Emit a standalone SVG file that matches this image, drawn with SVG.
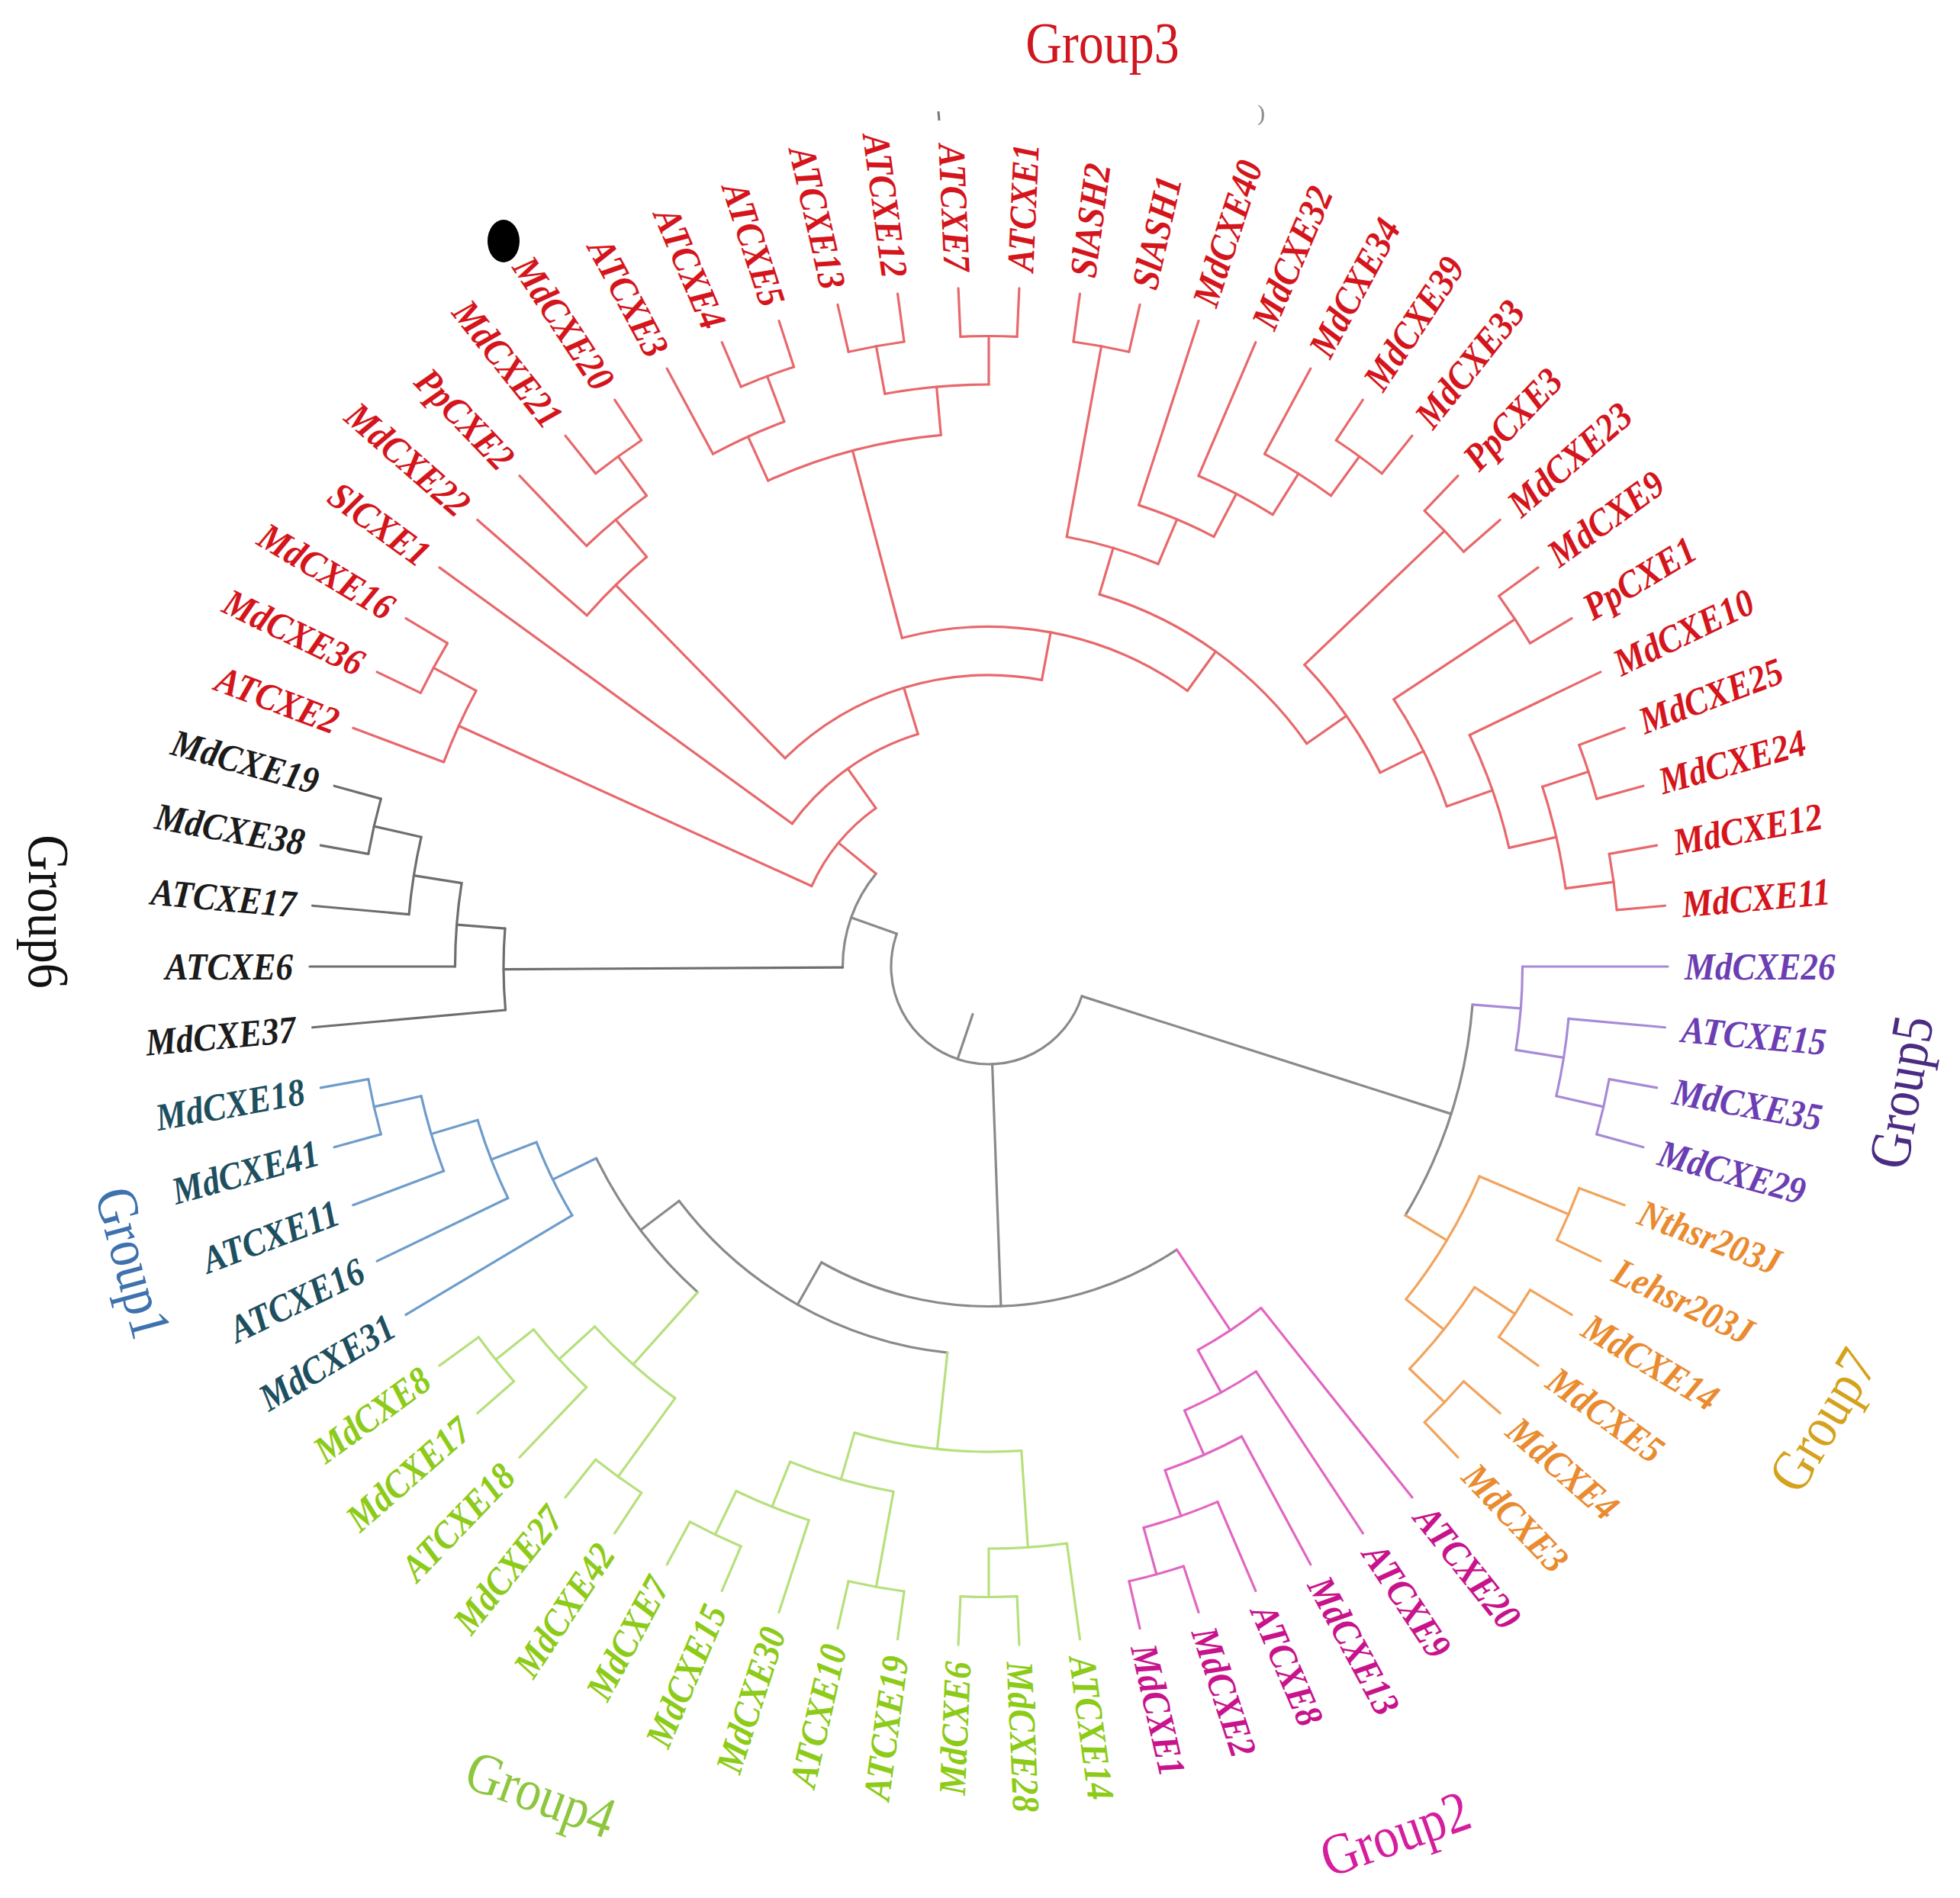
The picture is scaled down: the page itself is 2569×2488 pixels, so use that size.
<svg xmlns="http://www.w3.org/2000/svg" width="2569" height="2488" viewBox="0 0 2569 2488">
<style>
.b line,.b circle{fill:none;stroke-width:3.2;stroke-linecap:round}
.r{stroke:#E8686B}.g{stroke:#8a8a8a}.k{stroke:#6e6e6e}.p{stroke:#A78AD6}.o{stroke:#F2A35C}.m{stroke:#E266C1}.gr{stroke:#B6E07C}.bl{stroke:#6E9CCB}
.d line{stroke:#d6d6d6;stroke-width:2;stroke-dasharray:2 4;fill:none}
.t{font-family:"Liberation Serif","Times New Roman",serif;font-weight:bold;font-style:italic;font-size:45px;dominant-baseline:central}
.L{text-anchor:end}
.cr{fill:#D5151C}.cp{fill:#6C3EB3}.co{fill:#EA8B30}.cm{fill:#C8138D}.cg{fill:#8DCB19}.cb{fill:#1E4F5F}.ck{fill:#1b1b1b}
.G{font-family:"Liberation Serif","Times New Roman",serif;font-size:66px;text-anchor:middle}
</style>
<rect width="2569" height="2488" fill="#fff"/>
<g id="connectors" transform="translate(1296 1267)">
<g class="b">
<!-- h1 arcs r=826.5 -->
<circle r="826.5" class="p" stroke-dasharray="74.19 9999" transform="rotate(10.286)"/>
<circle r="826.5" class="o" stroke-dasharray="74.19 9999" transform="rotate(20.571)"/>
<circle r="826.5" class="o" stroke-dasharray="74.19 9999" transform="rotate(30.857)"/>
<circle r="826.5" class="o" stroke-dasharray="74.19 9999" transform="rotate(41.143)"/>
<circle r="826.5" class="m" stroke-dasharray="74.19 9999" transform="rotate(72)"/>
<circle r="826.5" class="gr" stroke-dasharray="74.19 9999" transform="rotate(87.429)"/>
<circle r="826.5" class="gr" stroke-dasharray="74.19 9999" transform="rotate(97.714)"/>
<circle r="826.5" class="gr" stroke-dasharray="74.19 9999" transform="rotate(113.143)"/>
<circle r="826.5" class="gr" stroke-dasharray="74.19 9999" transform="rotate(123.429)"/>
<circle r="826.5" class="gr" stroke-dasharray="74.19 9999" transform="rotate(138.857)"/>
<circle r="826.5" class="bl" stroke-dasharray="74.19 9999" transform="rotate(164.571)"/>
<circle r="826.5" class="k" stroke-dasharray="74.19 9999" transform="rotate(190.286)"/>
<circle r="826.5" class="r" stroke-dasharray="74.19 9999" transform="rotate(205.714)"/>
<circle r="826.5" class="r" stroke-dasharray="74.19 9999" transform="rotate(231.429)"/>
<circle r="826.5" class="r" stroke-dasharray="74.19 9999" transform="rotate(246.857)"/>
<circle r="826.5" class="r" stroke-dasharray="74.19 9999" transform="rotate(257.143)"/>
<circle r="826.5" class="r" stroke-dasharray="74.19 9999" transform="rotate(267.429)"/>
<circle r="826.5" class="r" stroke-dasharray="74.19 9999" transform="rotate(277.714)"/>
<circle r="826.5" class="r" stroke-dasharray="74.19 9999" transform="rotate(303.429)"/>
<circle r="826.5" class="r" stroke-dasharray="74.19 9999" transform="rotate(313.714)"/>
<circle r="826.5" class="r" stroke-dasharray="74.19 9999" transform="rotate(324)"/>
<circle r="826.5" class="r" stroke-dasharray="74.19 9999" transform="rotate(339.429)"/>
<circle r="826.5" class="r" stroke-dasharray="74.19 9999" transform="rotate(349.714)"/>
<!-- h2 arcs r=763 -->
<circle r="763" class="p" stroke-dasharray="102.73 9999" transform="rotate(5.143)"/>
<circle r="763" class="o" stroke-dasharray="136.97 9999" transform="rotate(33.429)"/>
<circle r="763" class="m" stroke-dasharray="102.73 9999" transform="rotate(66.857)"/>
<circle r="763" class="gr" stroke-dasharray="102.73 9999" transform="rotate(82.286)"/>
<circle r="763" class="gr" stroke-dasharray="102.73 9999" transform="rotate(108)"/>
<circle r="763" class="gr" stroke-dasharray="102.73 9999" transform="rotate(133.714)"/>
<circle r="763" class="bl" stroke-dasharray="102.73 9999" transform="rotate(159.429)"/>
<circle r="763" class="k" stroke-dasharray="102.73 9999" transform="rotate(185.143)"/>
<circle r="763" class="r" stroke-dasharray="102.73 9999" transform="rotate(200.571)"/>
<circle r="763" class="r" stroke-dasharray="102.73 9999" transform="rotate(226.286)"/>
<circle r="763" class="r" stroke-dasharray="102.73 9999" transform="rotate(241.714)"/>
<circle r="763" class="r" stroke-dasharray="136.97 9999" transform="rotate(259.714)"/>
<circle r="763" class="r" stroke-dasharray="102.73 9999" transform="rotate(298.286)"/>
<circle r="763" class="r" stroke-dasharray="136.97 9999" transform="rotate(342)"/>
<!-- h3 arcs r=699.5 -->
<circle r="699.5" class="p" stroke-dasharray="109.88 9999" transform="rotate(0)"/>
<circle r="699.5" class="o" stroke-dasharray="188.37 9999" transform="rotate(23.143)"/>
<circle r="699.5" class="m" stroke-dasharray="109.88 9999" transform="rotate(61.714)"/>
<circle r="699.5" class="gr" stroke-dasharray="141.27 9999" transform="rotate(100.286)"/>
<circle r="699.5" class="gr" stroke-dasharray="141.27 9999" transform="rotate(126)"/>
<circle r="699.5" class="bl" stroke-dasharray="109.88 9999" transform="rotate(154.286)"/>
<circle r="699.5" class="k" stroke-dasharray="109.88 9999" transform="rotate(180)"/>
<circle r="699.5" class="r" stroke-dasharray="109.88 9999" transform="rotate(221.143)"/>
<circle r="699.5" class="r" stroke-dasharray="235.46 9999" transform="rotate(245.571)"/>
<circle r="699.5" class="r" stroke-dasharray="109.88 9999" transform="rotate(293.143)"/>
<circle r="699.5" class="r" stroke-dasharray="156.97 9999" transform="rotate(334.286)"/>
<!-- h4 arcs r=636 -->
<circle r="636" class="g" stroke-dasharray="292.56 9999" transform="rotate(4.5)"/>
<circle r="636" class="m" stroke-dasharray="107.04 9999" transform="rotate(56.571)"/>
<circle r="636" class="gr" stroke-dasharray="221.2 9999" transform="rotate(86.143)"/>
<circle r="636" class="bl" stroke-dasharray="107.04 9999" transform="rotate(149.143)"/>
<circle r="636" class="k" stroke-dasharray="107.04 9999" transform="rotate(174.857)"/>
<circle r="636" class="r" stroke-dasharray="107.04 9999" transform="rotate(288)"/>
<circle r="636" class="r" stroke-dasharray="156.99 9999" transform="rotate(326.571)"/>
<!-- h5 arcs r=572.5 -->
<circle r="572.5" class="m" stroke-dasharray="99.56 9999" transform="rotate(51.429)"/>
<circle r="572.5" class="g" stroke-dasharray="221.6 9999" transform="rotate(131.786)"/>
<circle r="572.5" class="r" stroke-dasharray="125.25 9999" transform="rotate(280.286)"/>
<circle r="572.5" class="r" stroke-dasharray="173.43 9999" transform="rotate(316.286)"/>
<!-- h6..h12 -->
<circle r="509" class="g" stroke-dasharray="415.49 9999" transform="rotate(96.107)"/>
<circle r="509" class="r" stroke-dasharray="341.23 9999" transform="rotate(286.554)"/>
<circle r="445.5" class="g" stroke-dasharray="490.45 9999" transform="rotate(56.411)"/>
<circle r="445.5" class="r" stroke-dasharray="392.99 9999" transform="rotate(255.214)"/>
<circle r="382" class="r" stroke-dasharray="365.64 9999" transform="rotate(225.643)"/>
<circle r="318.5" class="r" stroke-dasharray="206.04 9999" transform="rotate(216)"/>
<circle r="255" class="r" stroke-dasharray="133.99 9999" transform="rotate(204.429)"/>
<circle r="191.5" class="g" stroke-dasharray="133.02 9999" transform="rotate(179.679)"/>
<circle r="128" class="g" stroke-dasharray="406.4 9999" transform="rotate(17.679)"/>
<!-- internal stems -->
<line class="p" x1="763" x2="826.5" transform="rotate(12.857)"/>
<line class="p" x1="699.5" x2="763" transform="rotate(9)"/>
<line class="p" x1="636" x2="699.5" transform="rotate(4.5)"/>
<line class="o" x1="699.5" x2="826.5" transform="rotate(23.143)"/>
<line class="o" x1="763" x2="826.5" transform="rotate(33.429)"/>
<line class="o" x1="763" x2="826.5" transform="rotate(43.714)"/>
<line class="o" x1="699.5" x2="763" transform="rotate(38.571)"/>
<line class="o" x1="636" x2="699.5" transform="rotate(30.857)"/>
<line class="g" x1="128" x2="636" transform="rotate(17.679)"/>
<line class="m" x1="763" x2="826.5" transform="rotate(74.571)"/>
<line class="m" x1="699.5" x2="763" transform="rotate(70.714)"/>
<line class="m" x1="636" x2="699.5" transform="rotate(66.214)"/>
<line class="m" x1="572.5" x2="636" transform="rotate(61.393)"/>
<line class="m" x1="445.5" x2="572.5" transform="rotate(56.411)"/>
<line class="gr" x1="763" x2="826.5" transform="rotate(90)"/>
<line class="gr" x1="636" x2="763" transform="rotate(86.143)"/>
<line class="gr" x1="699.5" x2="826.5" transform="rotate(100.286)"/>
<line class="gr" x1="763" x2="826.5" transform="rotate(115.714)"/>
<line class="gr" x1="699.5" x2="763" transform="rotate(111.857)"/>
<line class="gr" x1="636" x2="699.5" transform="rotate(106.071)"/>
<line class="gr" x1="509" x2="636" transform="rotate(96.107)"/>
<line class="gr" x1="763" x2="826.5" transform="rotate(141.429)"/>
<line class="gr" x1="699.5" x2="763" transform="rotate(137.571)"/>
<line class="gr" x1="699.5" x2="826.5" transform="rotate(126)"/>
<line class="gr" x1="572.5" x2="699.5" transform="rotate(131.786)"/>
<line class="bl" x1="763" x2="826.5" transform="rotate(167.143)"/>
<line class="bl" x1="699.5" x2="763" transform="rotate(163.286)"/>
<line class="bl" x1="636" x2="699.5" transform="rotate(158.786)"/>
<line class="bl" x1="572.5" x2="636" transform="rotate(153.964)"/>
<line class="g" x1="509" x2="572.5" transform="rotate(142.875)"/>
<line class="g" x1="445.5" x2="509" transform="rotate(119.491)"/>
<line class="g" x1="128" x2="445.5" transform="rotate(87.951)"/>
<line class="k" x1="763" x2="826.5" transform="rotate(192.857)"/>
<line class="k" x1="699.5" x2="763" transform="rotate(189)"/>
<line class="k" x1="636" x2="699.5" transform="rotate(184.5)"/>
<line class="k" x1="191.5" x2="636" transform="rotate(179.679)"/>
<line class="r" x1="763" x2="826.5" transform="rotate(208.286)"/>
<line class="r" x1="255" x2="763" transform="rotate(204.429)"/>
<line class="r" x1="763" x2="826.5" transform="rotate(234)"/>
<line class="r" x1="699.5" x2="763" transform="rotate(230.143)"/>
<line class="r" x1="382" x2="699.5" transform="rotate(225.643)"/>
<line class="r" x1="763" x2="826.5" transform="rotate(249.429)"/>
<line class="r" x1="699.5" x2="763" transform="rotate(245.571)"/>
<line class="r" x1="763" x2="826.5" transform="rotate(259.714)"/>
<line class="r" x1="763" x2="826.5" transform="rotate(270)"/>
<line class="r" x1="699.5" x2="763" transform="rotate(264.857)"/>
<line class="r" x1="445.5" x2="699.5" transform="rotate(255.214)"/>
<line class="r" x1="572.5" x2="826.5" transform="rotate(280.286)"/>
<line class="r" x1="763" x2="826.5" transform="rotate(306)"/>
<line class="r" x1="699.5" x2="763" transform="rotate(302.143)"/>
<line class="r" x1="636" x2="699.5" transform="rotate(297.643)"/>
<line class="r" x1="572.5" x2="636" transform="rotate(292.821)"/>
<line class="r" x1="509" x2="572.5" transform="rotate(286.554)"/>
<line class="r" x1="572.5" x2="826.5" transform="rotate(316.286)"/>
<line class="r" x1="636" x2="826.5" transform="rotate(326.571)"/>
<line class="r" x1="763" x2="826.5" transform="rotate(342)"/>
<line class="r" x1="763" x2="826.5" transform="rotate(352.286)"/>
<line class="r" x1="699.5" x2="763" transform="rotate(347.143)"/>
<line class="r" x1="636" x2="699.5" transform="rotate(340.714)"/>
<line class="r" x1="572.5" x2="636" transform="rotate(333.643)"/>
<line class="r" x1="509" x2="572.5" transform="rotate(324.964)"/>
<line class="r" x1="445.5" x2="509" transform="rotate(305.759)"/>
<line class="r" x1="382" x2="445.5" transform="rotate(280.487)"/>
<line class="r" x1="318.5" x2="382" transform="rotate(253.065)"/>
<line class="r" x1="255" x2="318.5" transform="rotate(234.532)"/>
<line class="r" x1="191.5" x2="255" transform="rotate(219.481)"/>
<line class="g" x1="128" x2="191.5" transform="rotate(199.58)"/>
<line class="g" x1="66" x2="128" transform="rotate(108.63)"/>
<!-- leaf branches -->
<line class="p" x1="699.5" x2="890" transform="rotate(0)"/>
<line class="p" x1="763" x2="890" transform="rotate(5.143)"/>
<line class="p" x1="826.5" x2="890" transform="rotate(10.286)"/>
<line class="p" x1="826.5" x2="890" transform="rotate(15.429)"/>
<line class="o" x1="826.5" x2="890" transform="rotate(20.571)"/>
<line class="o" x1="826.5" x2="890" transform="rotate(25.714)"/>
<line class="o" x1="826.5" x2="890" transform="rotate(30.857)"/>
<line class="o" x1="826.5" x2="890" transform="rotate(36)"/>
<line class="o" x1="826.5" x2="890" transform="rotate(41.143)"/>
<line class="o" x1="826.5" x2="890" transform="rotate(46.286)"/>
<line class="m" x1="572.5" x2="890" transform="rotate(51.429)"/>
<line class="m" x1="636" x2="890" transform="rotate(56.571)"/>
<line class="m" x1="699.5" x2="890" transform="rotate(61.714)"/>
<line class="m" x1="763" x2="890" transform="rotate(66.857)"/>
<line class="m" x1="826.5" x2="890" transform="rotate(72)"/>
<line class="m" x1="826.5" x2="890" transform="rotate(77.143)"/>
<line class="gr" x1="763" x2="890" transform="rotate(82.286)"/>
<line class="gr" x1="826.5" x2="890" transform="rotate(87.429)"/>
<line class="gr" x1="826.5" x2="890" transform="rotate(92.571)"/>
<line class="gr" x1="826.5" x2="890" transform="rotate(97.714)"/>
<line class="gr" x1="826.5" x2="890" transform="rotate(102.857)"/>
<line class="gr" x1="763" x2="890" transform="rotate(108)"/>
<line class="gr" x1="826.5" x2="890" transform="rotate(113.143)"/>
<line class="gr" x1="826.5" x2="890" transform="rotate(118.286)"/>
<line class="gr" x1="826.5" x2="890" transform="rotate(123.429)"/>
<line class="gr" x1="826.5" x2="890" transform="rotate(128.571)"/>
<line class="gr" x1="763" x2="890" transform="rotate(133.714)"/>
<line class="gr" x1="826.5" x2="890" transform="rotate(138.857)"/>
<line class="gr" x1="826.5" x2="890" transform="rotate(144)"/>
<line class="bl" x1="636" x2="890" transform="rotate(149.143)"/>
<line class="bl" x1="699.5" x2="890" transform="rotate(154.286)"/>
<line class="bl" x1="763" x2="890" transform="rotate(159.429)"/>
<line class="bl" x1="826.5" x2="890" transform="rotate(164.571)"/>
<line class="bl" x1="826.5" x2="890" transform="rotate(169.714)"/>
<line class="k" x1="636" x2="890" transform="rotate(174.857)"/>
<line class="k" x1="699.5" x2="890" transform="rotate(180)"/>
<line class="k" x1="763" x2="890" transform="rotate(185.143)"/>
<line class="k" x1="826.5" x2="890" transform="rotate(190.286)"/>
<line class="k" x1="826.5" x2="890" transform="rotate(195.429)"/>
<line class="r" x1="763" x2="890" transform="rotate(200.571)"/>
<line class="r" x1="826.5" x2="890" transform="rotate(205.714)"/>
<line class="r" x1="826.5" x2="890" transform="rotate(210.857)"/>
<line class="r" x1="318.5" x2="890" transform="rotate(216)"/>
<line class="r" x1="699.5" x2="890" transform="rotate(221.143)"/>
<line class="r" x1="763" x2="890" transform="rotate(226.286)"/>
<line class="r" x1="826.5" x2="890" transform="rotate(231.429)"/>
<line class="r" x1="826.5" x2="890" transform="rotate(236.571)"/>
<line class="r" x1="763" x2="890" transform="rotate(241.714)"/>
<line class="r" x1="826.5" x2="890" transform="rotate(246.857)"/>
<line class="r" x1="826.5" x2="890" transform="rotate(252)"/>
<line class="r" x1="826.5" x2="890" transform="rotate(257.143)"/>
<line class="r" x1="826.5" x2="890" transform="rotate(262.286)"/>
<line class="r" x1="826.5" x2="890" transform="rotate(267.429)"/>
<line class="r" x1="826.5" x2="890" transform="rotate(272.571)"/>
<line class="r" x1="826.5" x2="890" transform="rotate(277.714)"/>
<line class="r" x1="826.5" x2="890" transform="rotate(282.857)"/>
<line class="r" x1="636" x2="890" transform="rotate(288)"/>
<line class="r" x1="699.5" x2="890" transform="rotate(293.143)"/>
<line class="r" x1="763" x2="890" transform="rotate(298.286)"/>
<line class="r" x1="826.5" x2="890" transform="rotate(303.429)"/>
<line class="r" x1="826.5" x2="890" transform="rotate(308.571)"/>
<line class="r" x1="826.5" x2="890" transform="rotate(313.714)"/>
<line class="r" x1="826.5" x2="890" transform="rotate(318.857)"/>
<line class="r" x1="826.5" x2="890" transform="rotate(324)"/>
<line class="r" x1="826.5" x2="890" transform="rotate(329.143)"/>
<line class="r" x1="699.5" x2="890" transform="rotate(334.286)"/>
<line class="r" x1="826.5" x2="890" transform="rotate(339.429)"/>
<line class="r" x1="826.5" x2="890" transform="rotate(344.571)"/>
<line class="r" x1="826.5" x2="890" transform="rotate(349.714)"/>
<line class="r" x1="826.5" x2="890" transform="rotate(354.857)"/>
</g>
</g>
<g id="leaves" transform="translate(1296 1267)">
<g id="leaf-MdCXE26" transform="rotate(0) translate(912 0) scale(1 1.12)"><text class="t cp">MdCXE26</text></g>
<g id="leaf-ATCXE15" transform="rotate(5.143) translate(912 0) scale(1 1.12)"><text class="t cp">ATCXE15</text></g>
<g id="leaf-MdCXE35" transform="rotate(10.286) translate(912 0) scale(1 1.12)"><text class="t cp">MdCXE35</text></g>
<g id="leaf-MdCXE29" transform="rotate(15.429) translate(912 0) scale(1 1.12)"><text class="t cp">MdCXE29</text></g>
<g id="leaf-Nthsr203J" transform="rotate(20.571) translate(912 0) scale(1 1.12)"><text class="t co">Nthsr203J</text></g>
<g id="leaf-Lehsr203J" transform="rotate(25.714) translate(912 0) scale(1 1.12)"><text class="t co">Lehsr203J</text></g>
<g id="leaf-MdCXE14" transform="rotate(30.857) translate(912 0) scale(1 1.12)"><text class="t co">MdCXE14</text></g>
<g id="leaf-MdCXE5" transform="rotate(36) translate(912 0) scale(1 1.12)"><text class="t co">MdCXE5</text></g>
<g id="leaf-MdCXE4" transform="rotate(41.143) translate(912 0) scale(1 1.12)"><text class="t co">MdCXE4</text></g>
<g id="leaf-MdCXE3" transform="rotate(46.286) translate(912 0) scale(1 1.12)"><text class="t co">MdCXE3</text></g>
<g id="leaf-ATCXE20" transform="rotate(51.429) translate(912 0) scale(1 1.12)"><text class="t cm">ATCXE20</text></g>
<g id="leaf-ATCXE9" transform="rotate(56.571) translate(912 0) scale(1 1.12)"><text class="t cm">ATCXE9</text></g>
<g id="leaf-MdCXE13" transform="rotate(61.714) translate(912 0) scale(1 1.12)"><text class="t cm">MdCXE13</text></g>
<g id="leaf-ATCXE8" transform="rotate(66.857) translate(912 0) scale(1 1.12)"><text class="t cm">ATCXE8</text></g>
<g id="leaf-MdCXE2" transform="rotate(72) translate(912 0) scale(1 1.12)"><text class="t cm">MdCXE2</text></g>
<g id="leaf-MdCXE1" transform="rotate(77.143) translate(912 0) scale(1 1.12)"><text class="t cm">MdCXE1</text></g>
<g id="leaf-ATCXE14" transform="rotate(82.286) translate(912 0) scale(1 1.12)"><text class="t cg">ATCXE14</text></g>
<g id="leaf-MdCXE28" transform="rotate(87.429) translate(912 0) scale(1 1.12)"><text class="t cg">MdCXE28</text></g>
<g id="leaf-MdCXE6" transform="rotate(92.571) translate(912 0) rotate(180) scale(1 1.12)"><text class="t L cg">MdCXE6</text></g>
<g id="leaf-ATCXE19" transform="rotate(97.714) translate(912 0) rotate(180) scale(1 1.12)"><text class="t L cg">ATCXE19</text></g>
<g id="leaf-ATCXE10" transform="rotate(102.857) translate(912 0) rotate(180) scale(1 1.12)"><text class="t L cg">ATCXE10</text></g>
<g id="leaf-MdCXE30" transform="rotate(108) translate(912 0) rotate(180) scale(1 1.12)"><text class="t L cg">MdCXE30</text></g>
<g id="leaf-MdCXE15" transform="rotate(113.143) translate(912 0) rotate(180) scale(1 1.12)"><text class="t L cg">MdCXE15</text></g>
<g id="leaf-MdCXE7" transform="rotate(118.286) translate(912 0) rotate(180) scale(1 1.12)"><text class="t L cg">MdCXE7</text></g>
<g id="leaf-MdCXE42" transform="rotate(123.429) translate(912 0) rotate(180) scale(1 1.12)"><text class="t L cg">MdCXE42</text></g>
<g id="leaf-MdCXE27" transform="rotate(128.571) translate(912 0) rotate(180) scale(1 1.12)"><text class="t L cg">MdCXE27</text></g>
<g id="leaf-ATCXE18" transform="rotate(133.714) translate(912 0) rotate(180) scale(1 1.12)"><text class="t L cg">ATCXE18</text></g>
<g id="leaf-MdCXE17" transform="rotate(138.857) translate(912 0) rotate(180) scale(1 1.12)"><text class="t L cg">MdCXE17</text></g>
<g id="leaf-MdCXE8" transform="rotate(144) translate(912 0) rotate(180) scale(1 1.12)"><text class="t L cg">MdCXE8</text></g>
<g id="leaf-MdCXE31" transform="rotate(149.143) translate(912 0) rotate(180) scale(1 1.12)"><text class="t L cb">MdCXE31</text></g>
<g id="leaf-ATCXE16" transform="rotate(154.286) translate(912 0) rotate(180) scale(1 1.12)"><text class="t L cb">ATCXE16</text></g>
<g id="leaf-ATCXE11" transform="rotate(159.429) translate(912 0) rotate(180) scale(1 1.12)"><text class="t L cb">ATCXE11</text></g>
<g id="leaf-MdCXE41" transform="rotate(164.571) translate(912 0) rotate(180) scale(1 1.12)"><text class="t L cb">MdCXE41</text></g>
<g id="leaf-MdCXE18" transform="rotate(169.714) translate(912 0) rotate(180) scale(1 1.12)"><text class="t L cb">MdCXE18</text></g>
<g id="leaf-MdCXE37" transform="rotate(174.857) translate(912 0) rotate(180) scale(1 1.12)"><text class="t L ck">MdCXE37</text></g>
<g id="leaf-ATCXE6" transform="rotate(180) translate(912 0) rotate(180) scale(1 1.12)"><text class="t L ck">ATCXE6</text></g>
<g id="leaf-ATCXE17" transform="rotate(185.143) translate(912 0) rotate(180) scale(1 1.12)"><text class="t L ck">ATCXE17</text></g>
<g id="leaf-MdCXE38" transform="rotate(190.286) translate(912 0) rotate(180) scale(1 1.12)"><text class="t L ck">MdCXE38</text></g>
<g id="leaf-MdCXE19" transform="rotate(195.429) translate(912 0) rotate(180) scale(1 1.12)"><text class="t L ck">MdCXE19</text></g>
<g id="leaf-ATCXE2" transform="rotate(200.571) translate(912 0) rotate(180) scale(1 1.12)"><text class="t L cr">ATCXE2</text></g>
<g id="leaf-MdCXE36" transform="rotate(205.714) translate(912 0) rotate(180) scale(1 1.12)"><text class="t L cr">MdCXE36</text></g>
<g id="leaf-MdCXE16" transform="rotate(210.857) translate(912 0) rotate(180) scale(1 1.12)"><text class="t L cr">MdCXE16</text></g>
<g id="leaf-SlCXE1" transform="rotate(216) translate(912 0) rotate(180) scale(1 1.12)"><text class="t L cr">SlCXE1</text></g>
<g id="leaf-MdCXE22" transform="rotate(221.143) translate(912 0) rotate(180) scale(1 1.12)"><text class="t L cr">MdCXE22</text></g>
<g id="leaf-PpCXE2" transform="rotate(226.286) translate(912 0) rotate(180) scale(1 1.12)"><text class="t L cr">PpCXE2</text></g>
<g id="leaf-MdCXE21" transform="rotate(231.429) translate(912 0) rotate(180) scale(1 1.12)"><text class="t L cr">MdCXE21</text></g>
<g id="leaf-MdCXE20" transform="rotate(236.571) translate(912 0) rotate(180) scale(1 1.12)"><text class="t L cr">MdCXE20</text></g>
<g id="leaf-ATCXE3" transform="rotate(241.714) translate(912 0) rotate(180) scale(1 1.12)"><text class="t L cr">ATCXE3</text></g>
<g id="leaf-ATCXE4" transform="rotate(246.857) translate(912 0) rotate(180) scale(1 1.12)"><text class="t L cr">ATCXE4</text></g>
<g id="leaf-ATCXE5" transform="rotate(252) translate(912 0) rotate(180) scale(1 1.12)"><text class="t L cr">ATCXE5</text></g>
<g id="leaf-ATCXE13" transform="rotate(257.143) translate(912 0) rotate(180) scale(1 1.12)"><text class="t L cr">ATCXE13</text></g>
<g id="leaf-ATCXE12" transform="rotate(262.286) translate(912 0) rotate(180) scale(1 1.12)"><text class="t L cr">ATCXE12</text></g>
<g id="leaf-ATCXE7" transform="rotate(267.429) translate(912 0) rotate(180) scale(1 1.12)"><text class="t L cr">ATCXE7</text></g>
<g id="leaf-ATCXE1" transform="rotate(272.571) translate(912 0) scale(1 1.12)"><text class="t cr">ATCXE1</text></g>
<g id="leaf-SlASH2" transform="rotate(277.714) translate(912 0) scale(1 1.12)"><text class="t cr">SlASH2</text></g>
<g id="leaf-SlASH1" transform="rotate(282.857) translate(912 0) scale(1 1.12)"><text class="t cr">SlASH1</text></g>
<g id="leaf-MdCXE40" transform="rotate(288) translate(912 0) scale(1 1.12)"><text class="t cr">MdCXE40</text></g>
<g id="leaf-MdCXE32" transform="rotate(293.143) translate(912 0) scale(1 1.12)"><text class="t cr">MdCXE32</text></g>
<g id="leaf-MdCXE34" transform="rotate(298.286) translate(912 0) scale(1 1.12)"><text class="t cr">MdCXE34</text></g>
<g id="leaf-MdCXE39" transform="rotate(303.429) translate(912 0) scale(1 1.12)"><text class="t cr">MdCXE39</text></g>
<g id="leaf-MdCXE33" transform="rotate(308.571) translate(912 0) scale(1 1.12)"><text class="t cr">MdCXE33</text></g>
<g id="leaf-PpCXE3" transform="rotate(313.714) translate(912 0) scale(1 1.12)"><text class="t cr">PpCXE3</text></g>
<g id="leaf-MdCXE23" transform="rotate(318.857) translate(912 0) scale(1 1.12)"><text class="t cr">MdCXE23</text></g>
<g id="leaf-MdCXE9" transform="rotate(324) translate(912 0) scale(1 1.12)"><text class="t cr">MdCXE9</text></g>
<g id="leaf-PpCXE1" transform="rotate(329.143) translate(912 0) scale(1 1.12)"><text class="t cr">PpCXE1</text></g>
<g id="leaf-MdCXE10" transform="rotate(334.286) translate(912 0) scale(1 1.12)"><text class="t cr">MdCXE10</text></g>
<g id="leaf-MdCXE25" transform="rotate(339.429) translate(912 0) scale(1 1.12)"><text class="t cr">MdCXE25</text></g>
<g id="leaf-MdCXE24" transform="rotate(344.571) translate(912 0) scale(1 1.12)"><text class="t cr">MdCXE24</text></g>
<g id="leaf-MdCXE12" transform="rotate(349.714) translate(912 0) scale(1 1.12)"><text class="t cr">MdCXE12</text></g>
<g id="leaf-MdCXE11" transform="rotate(354.857) translate(912 0) scale(1 1.12)"><text class="t cr">MdCXE11</text></g>
</g>
<g id="group-labels">
<g id="label-Group3" transform="translate(1445 82) scale(1 1.16)"><text class="G" fill="#D0161E">Group3</text></g>
<g id="label-Group6" transform="translate(38 1195) rotate(90) scale(1 1.16)"><text class="G" fill="#111">Group6</text></g>
<g id="label-Group1" transform="translate(150 1662) rotate(75) scale(1 1.16)"><text class="G" fill="#3E72AE">Group1</text></g>
<g id="label-Group4" transform="translate(700 2376) rotate(20) scale(1 1.16)"><text class="G" fill="#8DC63F">Group4</text></g>
<g id="label-Group2" transform="translate(1837 2428) rotate(-19.4) scale(1 1.16)"><text class="G" fill="#D41E9E">Group2</text></g>
<g id="label-Group7" transform="translate(2411 1875) rotate(-59) scale(1 1.16)"><text class="G" fill="#D5A21E">Group7</text></g>
<g id="label-Group5" transform="translate(2517 1436) rotate(-80) scale(1 1.16)"><text class="G" fill="#4B2C83">Group5</text></g>
</g>
<g id="marks">
<ellipse cx="660" cy="316" rx="21" ry="28" fill="#000"/>
<line x1="1230" y1="146" x2="1231" y2="158" stroke="#777" stroke-width="3"/>
<text x="1648" y="158" font-family="Liberation Serif, serif" font-size="30" fill="#888">)</text>
</g>
</svg>
